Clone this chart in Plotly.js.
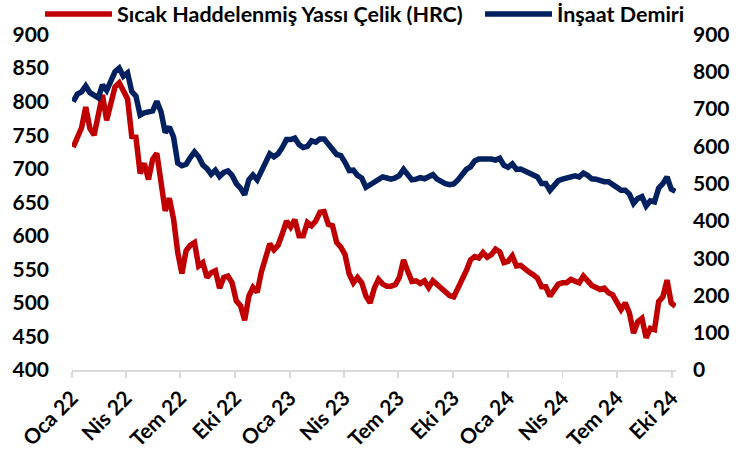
<!DOCTYPE html>
<html>
<head>
<meta charset="utf-8">
<script src="https://cdn.plot.ly/plotly-3.0.1.min.js"></script>
<style>html,body{margin:0;padding:0;background:#fff;}#chart{width:751px;height:457px;}</style>
</head>
<body>
<div id="chart"></div>
<script>
const dates = [
'2022-01-03','2022-01-10','2022-01-17','2022-01-24','2022-01-31',
'2022-02-07','2022-02-14','2022-02-21','2022-02-28',
'2022-03-07','2022-03-14','2022-03-21','2022-03-28',
'2022-04-04','2022-04-11','2022-04-18','2022-04-25',
'2022-05-02','2022-05-09','2022-05-16','2022-05-23','2022-05-30',
'2022-06-06','2022-06-13','2022-06-20','2022-06-27',
'2022-07-04','2022-07-11','2022-07-18','2022-07-25',
'2022-08-01','2022-08-08','2022-08-15','2022-08-22','2022-08-29',
'2022-09-05','2022-09-12','2022-09-19','2022-09-26',
'2022-10-03','2022-10-10','2022-10-17','2022-10-24','2022-10-31',
'2022-11-07','2022-11-14','2022-11-21','2022-11-28',
'2022-12-05','2022-12-12','2022-12-19','2022-12-26',
'2023-01-02','2023-01-09','2023-01-16','2023-01-23','2023-01-30',
'2023-02-06','2023-02-13','2023-02-20','2023-02-27',
'2023-03-06','2023-03-13','2023-03-20','2023-03-27',
'2023-04-03','2023-04-10','2023-04-17','2023-04-24',
'2023-05-01','2023-05-08','2023-05-15','2023-05-22','2023-05-29',
'2023-06-05','2023-06-12','2023-06-19','2023-06-26',
'2023-07-03','2023-07-10','2023-07-17','2023-07-24','2023-07-31',
'2023-08-07','2023-08-14','2023-08-21','2023-08-28',
'2023-09-04','2023-09-11','2023-09-18','2023-09-25',
'2023-10-02','2023-10-09','2023-10-16','2023-10-23','2023-10-30',
'2023-11-06','2023-11-13','2023-11-20','2023-11-27',
'2023-12-04','2023-12-11','2023-12-18','2023-12-25',
'2024-01-01','2024-01-08','2024-01-15','2024-01-22','2024-01-29',
'2024-02-05','2024-02-12','2024-02-19','2024-02-26',
'2024-03-04','2024-03-11','2024-03-18','2024-03-25',
'2024-04-01','2024-04-08','2024-04-15','2024-04-22','2024-04-29',
'2024-05-06','2024-05-13','2024-05-20','2024-05-27',
'2024-06-03','2024-06-10','2024-06-17','2024-06-24',
'2024-07-01','2024-07-08','2024-07-15','2024-07-22','2024-07-29',
'2024-08-05','2024-08-12','2024-08-19','2024-08-26',
'2024-09-02','2024-09-09','2024-09-16','2024-09-23','2024-09-30',
'2024-10-07'
];

const hrc = [
732,748,761,792,760,750,780,810,772,800,
822,828,816,804,748,747,693,708,684,714,
723,680,637,656,625,575,544,578,586,590,
555,560,538,545,548,522,538,540,530,503,
496,474,510,523,516,546,570,588,579,586,
603,622,613,624,600,600,620,615,622,635,
636,617,615,590,583,572,543,530,538,530,
510,500,522,535,528,525,525,527,538,564,
547,532,533,529,533,523,533,528,523,517,
511,509,522,532,548,564,569,567,575,568,
572,580,576,560,562,570,555,556,550,546,
542,537,524,524,510,518,528,530,530,535,
532,530,540,533,526,523,520,522,515,512,
500,490,500,485,455,472,477,448,462,460,
502,509,534,500,495
];

const rebar = [
720,740,746,762,744,739,730,765,750,775,
800,810,788,797,747,735,684,690,693,695,
721,693,637,652,625,555,548,552,570,585,
572,550,540,525,536,519,530,534,522,500,
488,470,510,523,510,535,562,580,572,580,
597,618,618,622,605,597,600,615,611,620,
620,608,592,578,575,557,535,536,522,515,
490,497,505,512,518,515,512,515,522,538,
526,510,512,516,513,520,524,512,505,500,
497,499,510,524,538,545,561,566,567,566,
566,563,568,549,544,553,538,539,534,528,
523,518,500,500,482,496,508,512,515,520,
521,518,528,522,513,512,507,505,505,499,
490,482,482,472,447,460,465,440,454,451,
488,500,518,485,479
];

const tickDates = ['2022-01-01','2022-04-01','2022-07-01','2022-10-01','2023-01-01','2023-04-01','2023-07-01','2023-10-01','2024-01-01','2024-04-01','2024-07-01','2024-10-01'];
const tickLabels = ['Oca 22','Nis 22','Tem 22','Eki 22','Oca 23','Nis 23','Tem 23','Eki 23','Oca 24','Nis 24','Tem 24','Eki 24'];

const seriesNames = ['Sıcak Haddelenmiş Yassı Çelik (HRC)', 'İnşaat Demiri'];
const FONT = 'Lato, "Open Sans", sans-serif';
const tickFont = {family: FONT, size: 21, color: '#000000', weight: 700};
const legendFont = {family: FONT, size: 21.5, color: '#000000', weight: 700};

const traces = [
  {x: dates, y: hrc, name: seriesNames[0], type: 'scatter', mode: 'lines',
   line: {color: '#C00000', width: 5.5}, yaxis: 'y', legend: 'legend'},
  {x: dates, y: rebar, name: seriesNames[1], type: 'scatter', mode: 'lines',
   line: {color: '#002060', width: 5.5}, yaxis: 'y2', legend: 'legend2'}
];

const legendBase = {orientation: 'h', xanchor: 'left', yref: 'container', y: 1 - 14/457, yanchor: 'middle',
  bgcolor: 'rgba(0,0,0,0)', itemwidth: 67, font: legendFont};

const layout = {
  width: 751, height: 457,
  margin: {l: 72, r: 75, t: 13, b: 87, pad: 0},
  paper_bgcolor: '#ffffff', plot_bgcolor: '#ffffff',
  font: {family: FONT, size: 21, color: '#000000', weight: 700},
  showlegend: true,
  legend: Object.assign({}, legendBase, {x: -0.053}),
  legend2: Object.assign({}, legendBase, {x: 0.6755}),
  xaxis: {type: 'date', range: ['2022-01-01', '2024-10-08'],
    tickmode: 'array', tickvals: tickDates, ticktext: tickLabels, tickangle: -45,
    showline: true, linecolor: '#d9d9d9', linewidth: 1.5,
    ticks: 'outside', ticklen: 6, tickcolor: '#d9d9d9', tickwidth: 1.5,
    showgrid: false, zeroline: false, tickfont: tickFont},
  yaxis: {range: [400, 900], tick0: 400, dtick: 50, showgrid: false, zeroline: false,
    showline: false, ticks: '', ticklabelstandoff: 22, tickfont: tickFont},
  yaxis2: {range: [0, 900], tick0: 0, dtick: 100, overlaying: 'y', side: 'right',
    showgrid: false, zeroline: false, showline: false, ticks: '', ticklabelstandoff: 16,
    tickfont: tickFont}
};

Plotly.newPlot('chart', traces, layout, {displayModeBar: false, staticPlot: true});
</script>
</body>
</html>
